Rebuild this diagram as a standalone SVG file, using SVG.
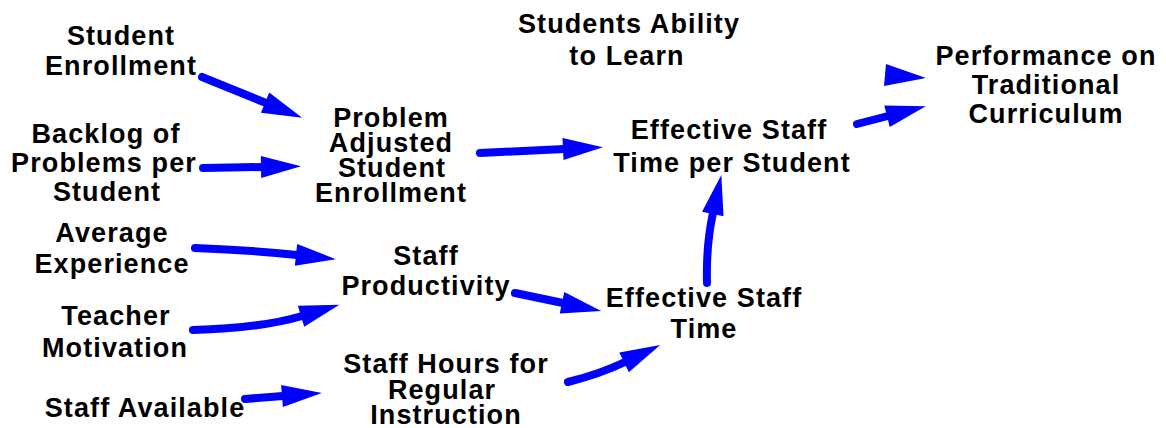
<svg xmlns="http://www.w3.org/2000/svg" width="1166" height="428" viewBox="0 0 1166 428">
<style>
text{font-family:"Liberation Sans",Arial,sans-serif;font-weight:bold;font-size:27px;letter-spacing:1.1px;fill:#000;text-anchor:middle}
.c{fill:none;stroke:#0000ff;stroke-width:8;stroke-linecap:round;marker-end:url(#ah)}
.h{fill:#0000ff}
</style>
<defs>
<marker id="ah" markerUnits="userSpaceOnUse" markerWidth="42" markerHeight="24" refX="1" refY="11" orient="auto" viewBox="0 0 42 24" overflow="visible">
<path d="M0,0 L40,11 L0,22 Z" fill="#0000ff"/>
</marker>
</defs>
<rect width="1166" height="428" fill="#fff"/>
<g id="n-student-enrollment"><text x="121" y="45">Student</text><text x="121" y="75">Enrollment</text></g>
<g id="n-backlog"><text x="106" y="143">Backlog of</text><text x="104" y="172">Problems per</text><text x="107" y="201">Student</text></g>
<g id="n-pase"><text x="391" y="127">Problem</text><text x="391" y="152">Adjusted</text><text x="392" y="177">Student</text><text x="391" y="202">Enrollment</text></g>
<g id="n-ability"><text x="629" y="33">Students Ability</text><text x="627" y="65">to Learn</text></g>
<g id="n-performance"><text x="1046" y="65">Performance on</text><text x="1046" y="94">Traditional</text><text x="1046" y="123">Curriculum</text></g>
<g id="n-estps"><text x="729" y="139">Effective Staff</text><text x="732" y="172">Time per Student</text></g>
<g id="n-avg-exp"><text x="112" y="242">Average</text><text x="112" y="273">Experience</text></g>
<g id="n-staff-prod"><text x="426" y="265">Staff</text><text x="426" y="295">Productivity</text></g>
<g id="n-teacher"><text x="116" y="325">Teacher</text><text x="115" y="357">Motivation</text></g>
<g id="n-est"><text x="704" y="307">Effective Staff</text><text x="704" y="338">Time</text></g>
<g id="n-shri"><text x="446" y="373">Staff Hours for</text><text x="442" y="399">Regular</text><text x="446" y="424">Instruction</text></g>
<g id="n-staff-avail"><text x="145" y="417">Staff Available</text></g>
<g id="connectors">
<path class="c" d="M202,77 L266,103"/>
<path class="c" d="M203,168 L262,167"/>
<path class="c" d="M480,153 L564,149"/>
<polygon class="h" points="886,64 926,78 884,86"/>
<path class="c" d="M857,124 L888,116"/>
<path class="c" d="M195,248 Q250,250 297,255"/>
<path class="c" d="M193,330 Q262,328 302,316"/>
<path class="c" d="M515,293 L563,303"/>
<path class="c" d="M707,283 Q706,245 713,213"/>
<path class="c" d="M568,382 Q600,374 625,362"/>
<path class="c" d="M245,399 L283,396"/>
</g>
</svg>
